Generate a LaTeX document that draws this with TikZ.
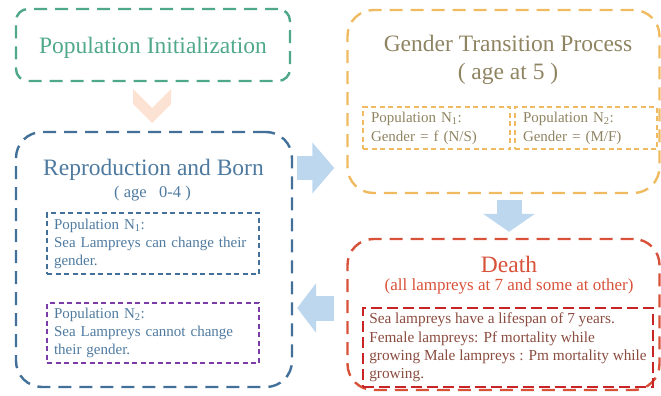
\documentclass[tikz,border=0pt]{standalone}
\usepackage{fontspec}
\setmainfont{Liberation Serif}
\usetikzlibrary{arrows.meta,calc}

\definecolor{initgreen}{RGB}{80,168,138}
\definecolor{chevpeach}{RGB}{251,226,210}
\definecolor{bornblue}{RGB}{66,112,152}
\definecolor{borntext}{RGB}{78,122,160}
\definecolor{nviolet}{RGB}{124,60,168}
\definecolor{arrowblue}{RGB}{189,215,238}
\definecolor{genderorange}{RGB}{240,186,96}
\definecolor{gendertext}{RGB}{143,132,98}
\definecolor{deathred}{RGB}{216,82,58}
\definecolor{deathinner}{RGB}{200,36,38}
\definecolor{deathtext}{RGB}{138,76,63}

\begin{document}
\begin{tikzpicture}[
        x=1pt, y=1pt,
        bigbox/.style={rectangle, rounded corners=26pt, line width=2.4pt, dash pattern=on 13pt off 8pt, inner sep=0pt},
        smallbox/.style={rectangle, line width=1.3pt, dash pattern=on 5pt off 3.5pt, inner ysep=0pt, align=left, font=\fontsize{15}{18}\selectfont},
        title/.style={anchor=base, font=\fontsize{23.5}{26}\selectfont},
        subtitle/.style={anchor=base, font=\fontsize{16.5}{19}\selectfont},
        blockarrow/.style={draw=arrowblue, line width=25pt}
    ]
        \useasboundingbox (0,0) rectangle (661,-396);

        \node (init) [bigbox, rounded corners=12pt, draw=initgreen, minimum width=274pt, minimum height=72pt] at (153,-45) {};
        \node (born) [bigbox, draw=bornblue, minimum width=276pt, minimum height=255pt] at (154,-259.5) {};
        \node (gender) [bigbox, draw=genderorange, minimum width=312pt, minimum height=183pt] at (503.5,-101.5) {};
        \node (death) [bigbox, draw=deathred, minimum width=312pt, minimum height=151pt] at (503.5,-314.5) {};

        \node (inittitle) [title, text=initgreen] at (153,-53) {Population Initialization};
        \node (borntitle) [title, text=borntext] at (153.5,-175) {Reproduction and Born};
        \node (bornage) [subtitle, text=borntext] at (152.5,-197) {( age~~~0-4 )};
        \node (gendertitle) [title, text=gendertext] at (508,-52) {Gender Transition Process};
        \node (genderage) [title, text=gendertext] at (508,-80) {( age at 5 )};
        \node (deathtitle) [title, text=deathred] at (509,-272) {Death};
        \node (deathsub) [anchor=base, text=deathred, font=\fontsize{17}{20}\selectfont] at (509,-290) {(all lampreys at 7 and some at other)};

        \node (bornn1) [smallbox, draw=bornblue, text=borntext, inner xsep=7pt, minimum width=212pt, minimum height=61pt, text width=198pt] at (153,-243.5) {Population N\textsubscript{1}:\\Sea Lampreys can change their\\gender.};
        \node (bornn2) [smallbox, draw=nviolet, text=borntext, inner xsep=7pt, minimum width=212pt, minimum height=60pt, text width=198pt] at (153,-333) {Population N\textsubscript{2}:\\Sea Lampreys cannot change\\their gender.};
        \node (gendern1) [smallbox, draw=genderorange, text=gendertext, font=\fontsize{15}{19}\selectfont, inner xsep=8pt, minimum width=147pt, minimum height=42pt, text width=131pt] at (436.5,-128) {Population N\textsubscript{1}:\\Gender = f (N/S)};
        \node (gendern2) [smallbox, draw=genderorange, text=gendertext, font=\fontsize{15}{19}\selectfont, inner xsep=8pt, minimum width=142pt, minimum height=42pt, text width=126pt] at (586,-128) {Population N\textsubscript{2}:\\Gender = (M/F)};
        \node (deathrule) [smallbox, draw=deathinner, text=deathtext, line width=2pt, dash pattern=on 11pt off 5pt, font=\fontsize{15.3}{18.3}\selectfont, minimum width=290pt, minimum height=79pt] at (508,-347.5) {Sea lampreys have a lifespan of 7 years.\\Female lampreys: Pf mortality while\\growing Male lampreys : Pm mortality while\\growing.};

        \coordinate (chev) at ($(init.south)!0.5!(born.north)+(-1.5,-1.5)$);
        \fill[chevpeach] ([shift={(-19,19)}]chev) -- (chev) -- ([shift={(19,19)}]chev) -- ([shift={(19,4)}]chev) -- ([shift={(0,-15)}]chev) -- ([shift={(-19,4)}]chev) -- cycle;

        \coordinate (righttail) at ([yshift=91.5pt]born.east);
        \coordinate (lefttail) at ([yshift=6.5pt]death.west);
        \coordinate (downtail) at ([xshift=5.5pt]gender.south);

        \draw [blockarrow, -{Triangle[length=22pt, width=50pt]}, line width=24pt, shorten <=4pt, shorten >=12pt] (righttail) -- (righttail -| gender.west);
        \draw [blockarrow, -{Triangle[length=19pt, width=49pt]}, shorten <=12pt, shorten >=4pt] (lefttail) -- (lefttail -| born.east);
        \draw [blockarrow, -{Triangle[length=18pt, width=51pt]}, shorten <=6pt, shorten >=6pt] (downtail) -- (downtail |- death.north);
    \end{tikzpicture}
\end{document}
